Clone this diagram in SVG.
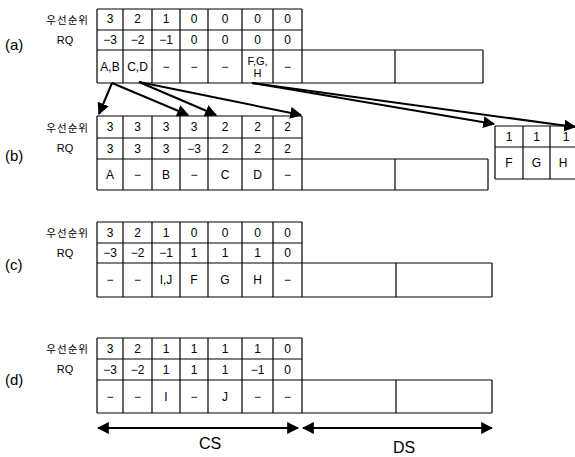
<svg xmlns="http://www.w3.org/2000/svg" width="575" height="457" viewBox="0 0 575 457">
<style>
.g{fill:none;stroke:#000;stroke-width:1.2}
.t{font-family:"Liberation Sans",Arial,sans-serif;font-size:12px;fill:#000;text-anchor:middle;dominant-baseline:central}
.k{font-family:"Noto Sans CJK KR","Noto Sans",sans-serif;font-size:10.5px;fill:#000;text-anchor:end;dominant-baseline:central;letter-spacing:1px}
.r{font-family:"Liberation Sans",Arial,sans-serif;font-size:11px;fill:#000;text-anchor:middle;dominant-baseline:central}
.p{font-family:"Liberation Sans",Arial,sans-serif;font-size:15px;fill:#000;dominant-baseline:central}
.big{font-family:"Liberation Sans",Arial,sans-serif;font-size:16px;fill:#000;text-anchor:middle;dominant-baseline:central}
.a{fill:none;stroke:#000;stroke-width:2}
</style>
<defs>
<marker id="ah" viewBox="0 0 10 10" refX="9" refY="5" markerWidth="6" markerHeight="6" orient="auto-start-reverse" markerUnits="strokeWidth">
<path d="M0,0 L10,5 L0,10 z" fill="#000"/>
</marker>
</defs>

<g id="table-a">
<text class="k" x="89" y="19">우선순위</text>
<text class="r" x="65" y="40">RQ</text>
<text class="p" x="5" y="44">(a)</text>
<path class="g" d="M97,9 H302 M97,30 H302 M97,50 H483 M97,83 H483 M97,9 V83 M123,9 V83 M152,9 V83 M180,9 V83 M208,9 V83 M242,9 V83 M273,9 V83 M302,9 V83 M395,50 V83 M483,50 V83"/>
<text class="t" x="110" y="19">3</text><text class="t" x="137.5" y="19">2</text><text class="t" x="166" y="19">1</text><text class="t" x="194" y="19">0</text><text class="t" x="225" y="19">0</text><text class="t" x="257.5" y="19">0</text><text class="t" x="287.5" y="19">0</text>
<text class="t" x="110" y="40">−3</text><text class="t" x="137.5" y="40">−2</text><text class="t" x="166" y="40">−1</text><text class="t" x="194" y="40">0</text><text class="t" x="225" y="40">0</text><text class="t" x="257.5" y="40">0</text><text class="t" x="287.5" y="40">0</text>
<text class="t" x="110" y="67">A,B</text><text class="t" x="137.5" y="67">C,D</text><text class="t" x="166" y="67">−</text><text class="t" x="194" y="67">−</text><text class="t" x="225" y="67">−</text><text class="t" x="257.5" y="61" style="font-size:11px">F,G,</text><text class="t" x="257.5" y="73" style="font-size:11px">H</text><text class="t" x="287.5" y="67">−</text>
</g>

<g id="table-b">
<text class="k" x="89" y="127">우선순위</text>
<text class="r" x="65" y="148">RQ</text>
<text class="p" x="5" y="155">(b)</text>
<path class="g" d="M97,116 H302 M97,138 H302 M97,159 H488 M97,190 H488 M97,116 V190 M123,116 V190 M152,116 V190 M180,116 V190 M208,116 V190 M242,116 V190 M273,116 V190 M302,116 V190 M395,159 V190 M488,159 V190"/>
<text class="t" x="110" y="127">3</text><text class="t" x="137.5" y="127">3</text><text class="t" x="166" y="127">3</text><text class="t" x="194" y="127">3</text><text class="t" x="225" y="127">2</text><text class="t" x="257.5" y="127">2</text><text class="t" x="287.5" y="127">2</text>
<text class="t" x="110" y="148.5">3</text><text class="t" x="137.5" y="148.5">3</text><text class="t" x="166" y="148.5">3</text><text class="t" x="194" y="148.5">−3</text><text class="t" x="225" y="148.5">2</text><text class="t" x="257.5" y="148.5">2</text><text class="t" x="287.5" y="148.5">2</text>
<text class="t" x="110" y="175">A</text><text class="t" x="137.5" y="175">−</text><text class="t" x="166" y="175">B</text><text class="t" x="194" y="175">−</text><text class="t" x="225" y="175">C</text><text class="t" x="257.5" y="175">D</text><text class="t" x="287.5" y="175">−</text>
</g>

<g id="table-side">
<path class="g" d="M495,126 H580 M495,147 H580 M495,179 H580 M495,126 V179 M523,126 V179 M550,126 V179"/>
<text class="t" x="509" y="136.5">1</text><text class="t" x="536.5" y="136.5">1</text><text class="t" x="566" y="136.5">1</text>
<text class="t" x="509" y="163">F</text><text class="t" x="536.5" y="163">G</text><text class="t" x="563" y="163">H</text>
</g>

<g id="table-c">
<text class="k" x="89" y="232">우선순위</text>
<text class="r" x="65" y="253">RQ</text>
<text class="p" x="5" y="264">(c)</text>
<path class="g" d="M97,222 H302 M97,243 H302 M97,263 H492 M97,297 H492 M97,222 V297 M123,222 V297 M152,222 V297 M180,222 V297 M208,222 V297 M242,222 V297 M273,222 V297 M302,222 V297 M396,263 V297 M492,263 V297"/>
<text class="t" x="110" y="232.5">3</text><text class="t" x="137.5" y="232.5">2</text><text class="t" x="166" y="232.5">1</text><text class="t" x="194" y="232.5">0</text><text class="t" x="225" y="232.5">0</text><text class="t" x="257.5" y="232.5">0</text><text class="t" x="287.5" y="232.5">0</text>
<text class="t" x="110" y="253">−3</text><text class="t" x="137.5" y="253">−2</text><text class="t" x="166" y="253">−1</text><text class="t" x="194" y="253">1</text><text class="t" x="225" y="253">1</text><text class="t" x="257.5" y="253">1</text><text class="t" x="287.5" y="253">0</text>
<text class="t" x="110" y="280">−</text><text class="t" x="137.5" y="280">−</text><text class="t" x="166" y="280">I,J</text><text class="t" x="194" y="280">F</text><text class="t" x="225" y="280">G</text><text class="t" x="257.5" y="280">H</text><text class="t" x="287.5" y="280">−</text>
</g>

<g id="table-d">
<text class="k" x="89" y="348">우선순위</text>
<text class="r" x="65" y="369">RQ</text>
<text class="p" x="5" y="379">(d)</text>
<path class="g" d="M97,338 H302 M97,359 H302 M97,380 H492 M97,413 H492 M97,338 V413 M123,338 V413 M152,338 V413 M180,338 V413 M208,338 V413 M242,338 V413 M273,338 V413 M302,338 V413 M396,380 V413 M492,380 V413"/>
<text class="t" x="110" y="348.5">3</text><text class="t" x="137.5" y="348.5">2</text><text class="t" x="166" y="348.5">1</text><text class="t" x="194" y="348.5">1</text><text class="t" x="225" y="348.5">1</text><text class="t" x="257.5" y="348.5">1</text><text class="t" x="287.5" y="348.5">0</text>
<text class="t" x="110" y="369.5">−3</text><text class="t" x="137.5" y="369.5">−2</text><text class="t" x="166" y="369.5">1</text><text class="t" x="194" y="369.5">1</text><text class="t" x="225" y="369.5">1</text><text class="t" x="257.5" y="369.5">−1</text><text class="t" x="287.5" y="369.5">0</text>
<text class="t" x="110" y="396.5">−</text><text class="t" x="137.5" y="396.5">−</text><text class="t" x="166" y="396.5">I</text><text class="t" x="194" y="396.5">−</text><text class="t" x="225" y="396.5">J</text><text class="t" x="257.5" y="396.5">−</text><text class="t" x="287.5" y="396.5">−</text>
</g>

<g id="connectors">
<line class="a" x1="112" y1="83" x2="99" y2="114" marker-end="url(#ah)"/>
<line class="a" x1="112" y1="83" x2="188" y2="115" marker-end="url(#ah)"/>
<line class="a" x1="139" y1="82" x2="216" y2="115" marker-end="url(#ah)"/>
<line class="a" x1="139" y1="82" x2="301" y2="115" marker-end="url(#ah)"/>
<line class="a" x1="252" y1="83" x2="494" y2="124" marker-end="url(#ah)"/>
<line class="a" x1="252" y1="83" x2="575" y2="127" marker-end="url(#ah)"/>
<line class="a" x1="98" y1="428" x2="298" y2="428" marker-start="url(#ah)" marker-end="url(#ah)"/>
<line class="a" x1="303" y1="428" x2="492" y2="428" marker-start="url(#ah)" marker-end="url(#ah)"/>
</g>

<g id="labels">
<text class="big" x="210" y="443">CS</text>
<text class="big" x="404" y="447">DS</text>
</g>
</svg>
